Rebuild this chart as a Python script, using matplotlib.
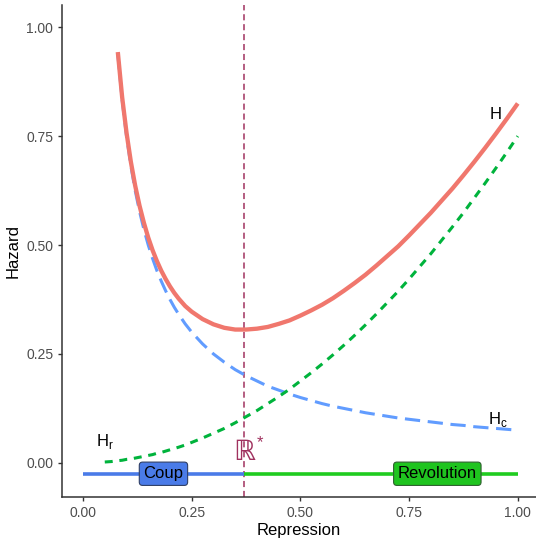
import matplotlib
matplotlib.use("Agg")
import matplotlib.pyplot as plt

plt.rcParams["font.family"] = ["Liberation Sans", "DejaVu Sans"]

# values
x_h = [0.08, 0.09, 0.10, 0.11, 0.12, 0.13, 0.14, 0.15, 0.16, 0.17, 0.18, 0.19, 0.20, 0.21,
       0.22, 0.235, 0.25, 0.275, 0.30, 0.325, 0.35, 0.375, 0.40, 0.425, 0.45, 0.475, 0.50,
       0.525, 0.55, 0.575, 0.60, 0.625, 0.65, 0.675, 0.70, 0.725, 0.75, 0.775, 0.80, 0.825,
       0.85, 0.875, 0.90, 0.925, 0.95, 0.975, 1.00]
h_total = [0.943, 0.839, 0.758, 0.691, 0.636, 0.590, 0.551, 0.517, 0.488, 0.463, 0.441, 0.422,
           0.405, 0.390, 0.377, 0.360, 0.347, 0.330, 0.318, 0.310, 0.306, 0.306, 0.308, 0.312,
           0.319, 0.327, 0.338, 0.350, 0.363, 0.378, 0.395, 0.413, 0.432, 0.453, 0.475, 0.497,
           0.522, 0.548, 0.574, 0.602, 0.630, 0.660, 0.691, 0.723, 0.756, 0.790, 0.825]
h_coup = [0.938, 0.833, 0.750, 0.682, 0.625, 0.577, 0.536, 0.500, 0.469, 0.441, 0.417, 0.395,
          0.375, 0.357, 0.341, 0.319, 0.300, 0.273, 0.250, 0.231, 0.214, 0.200, 0.188, 0.176,
          0.167, 0.158, 0.150, 0.143, 0.136, 0.130, 0.125, 0.120, 0.115, 0.111, 0.107, 0.103,
          0.100, 0.097, 0.094, 0.091, 0.088, 0.086, 0.083, 0.081, 0.079, 0.077, 0.075]
x_r = [0.05, 0.065] + x_h
h_rev = [0.002, 0.003, 0.005, 0.006, 0.008, 0.009, 0.011, 0.013, 0.015, 0.017, 0.019, 0.022,
         0.024, 0.027, 0.030, 0.033, 0.036, 0.041, 0.047, 0.057, 0.068, 0.079, 0.092, 0.106,
         0.120, 0.136, 0.152, 0.169, 0.188, 0.207, 0.227, 0.248, 0.270, 0.293, 0.317, 0.342,
         0.368, 0.394, 0.422, 0.451, 0.480, 0.511, 0.542, 0.574, 0.608, 0.642, 0.677, 0.713,
         0.750]
r_star = 0.37
band_y = -0.025
regimes = ["Coup", "Revolution"]
regime_x = [0.185, 0.815]
ticks = [0.0, 0.25, 0.5, 0.75, 1.0]
tick_labels = ["0.00", "0.25", "0.50", "0.75", "1.00"]

fig = plt.figure(figsize=(5.36, 5.43), dpi=100)
ax = fig.add_axes([0.116, 0.085, 0.884, 0.905])

ax.plot(x_h, h_coup, color="#619CFF", lw=2.2, dashes=(5, 2.5), zorder=2)
ax.plot(x_r, h_rev, color="#00B33C", lw=2.2, dashes=(2.6, 2.2), zorder=2)
ax.plot(x_h, h_total, color="#F0776D", lw=3.1, solid_capstyle="butt", zorder=3)

ax.axvline(r_star, color="#A0325F", lw=1.1, ls=(0, (4, 2.5)), zorder=1)

# regime band along the bottom
ax.plot([0, r_star], [band_y, band_y], color="#4A7BE8", lw=2.6, solid_capstyle="butt", zorder=2)
ax.plot([r_star, 1.0], [band_y, band_y], color="#1FCC1F", lw=2.6, solid_capstyle="butt", zorder=2)
ax.text(regime_x[0], band_y, regimes[0], ha="center", va="center", fontsize=12, zorder=4,
        bbox=dict(boxstyle="round,pad=0.25,rounding_size=0.2", fc="#4A7BE8", ec="#2F3F66", lw=0.8))
ax.text(regime_x[1], band_y, regimes[1], ha="center", va="center", fontsize=12, zorder=4,
        bbox=dict(boxstyle="round,pad=0.25,rounding_size=0.2", fc="#1FC41F", ec="#2F5F2F", lw=0.8))

ax.text(r_star, 0.025, "\u211D", color="#A0325F", fontsize=20, ha="center", va="center",
        family=["DejaVu Sans"])
ax.text(0.407, 0.046, "*", color="#A0325F", fontsize=12, ha="center", va="center")

ax.text(0.95, 0.80, "H", fontsize=12, ha="center", va="center")
ax.text(0.05, 0.05, "H$_{\\mathregular{r}}$", fontsize=12, ha="center", va="center")
ax.text(0.955, 0.10, "H$_{\\mathregular{c}}$", fontsize=12, ha="center", va="center")

ax.set_xlim(-0.048, 1.042)
ax.set_ylim(-0.078, 1.05)
ax.set_xticks(ticks)
ax.set_xticklabels(tick_labels)
ax.set_yticks(ticks)
ax.set_yticklabels(tick_labels)
ax.tick_params(colors="#333333", labelcolor="#4D4D4D", labelsize=10, length=3, width=1)
for side in ["top", "right"]:
    ax.spines[side].set_visible(False)
for side in ["left", "bottom"]:
    ax.spines[side].set_color("#333333")
    ax.spines[side].set_linewidth(1.1)
ax.set_xlabel("Repression", fontsize=12, labelpad=2)
ax.set_ylabel("Hazard", fontsize=12, labelpad=4)

fig.savefig("out.png", dpi=100)
